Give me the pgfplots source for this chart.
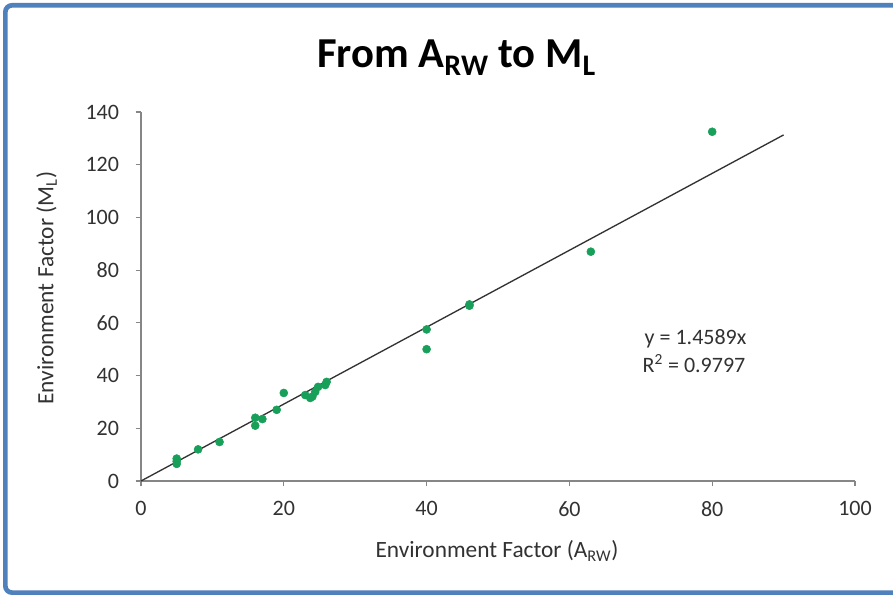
\documentclass[border=0pt]{standalone}
\usepackage{pgfplots}
\pgfplotsset{compat=1.18}
\usepackage{fontspec}
\setmainfont{Carlito}
\definecolor{frameblue}{RGB}{79,129,189}
\definecolor{dotgreen}{RGB}{24,160,90}
\definecolor{axisgray}{RGB}{134,134,134}
\definecolor{labelgray}{RGB}{50,50,50}

\begin{document}
\begin{tikzpicture}
% page = 893 x 595 px at 0.75pt per px
\clip (0,0) rectangle (669.75pt,446.25pt);
\fill[white] (0,0) rectangle (669.75pt,446.25pt);
\draw[frameblue, line width=3.5pt, rounded corners=5pt] (4pt,1.8pt) rectangle (720pt,442.25pt);

\begin{axis}[
	at={(105.75pt,85.5pt)}, anchor=south west,
	scale only axis,
	width=535.5pt, height=276.75pt,
	xmin=0, xmax=100, ymin=0, ymax=140,
	xtick={0,20,...,100}, ytick={0,20,...,140},
	axis lines*=left,
	axis line style={axisgray, line width=0.8pt},
	tick style={axisgray, line width=0.8pt},
	tick align=outside, major tick length=4pt,
	ticklabel style={font=\fontsize{16.5}{19}\selectfont, text=labelgray},
	yticklabel style={xshift=-9pt},
	xticklabel style={yshift=-8pt},
	/pgf/number format/assume math mode=true,
	clip=false,
]
	% observations
	\addplot[only marks, mark=*, mark size=3pt, color=dotgreen] coordinates {
		(5,8.5) (5,6.5) (5,7.5)
		(8,12) (11,14.8)
		(16,24) (16,21) (17,23.5) (19,27) (20,33.4)
		(23,32.6) (23.7,31.5) (24,32) (24.4,33.8) (24.8,35.7) (25.8,36.4) (26,37.6)
		(40,57.5) (40,50)
		(46,66.5) (46,67)
		(63,87)
		(80,132.5)
	};
	% trendline y = 1.4589x
	\addplot[black!80, line width=1pt, no marks] coordinates {(0,0) (90,131.3)};
\end{axis}

\node[anchor=base, font=\fontsize{32}{38}\selectfont\bfseries] at (342.4pt,395.25pt)
	{From A\textsubscript{RW} to M\textsubscript{L}};
\node[anchor=base, font=\fontsize{17.5}{21}\selectfont, text=labelgray] at (372.75pt,27.75pt)
	{Environment Factor (A\textsubscript{RW})};
\node[anchor=base, rotate=90, font=\fontsize{17.5}{21}\selectfont, text=labelgray] at (40pt,230pt)
	{Environment Factor (M\textsubscript{L})};
\node[anchor=base west, font=\fontsize{16.5}{19}\selectfont, text=labelgray] at (480pt,187.5pt)
	{y = 1.4589x};
\node[anchor=base west, font=\fontsize{16.5}{19}\selectfont, text=labelgray] at (478.5pt,166.5pt)
	{R\textsuperscript{2} = 0.9797};
\end{tikzpicture}
\end{document}
